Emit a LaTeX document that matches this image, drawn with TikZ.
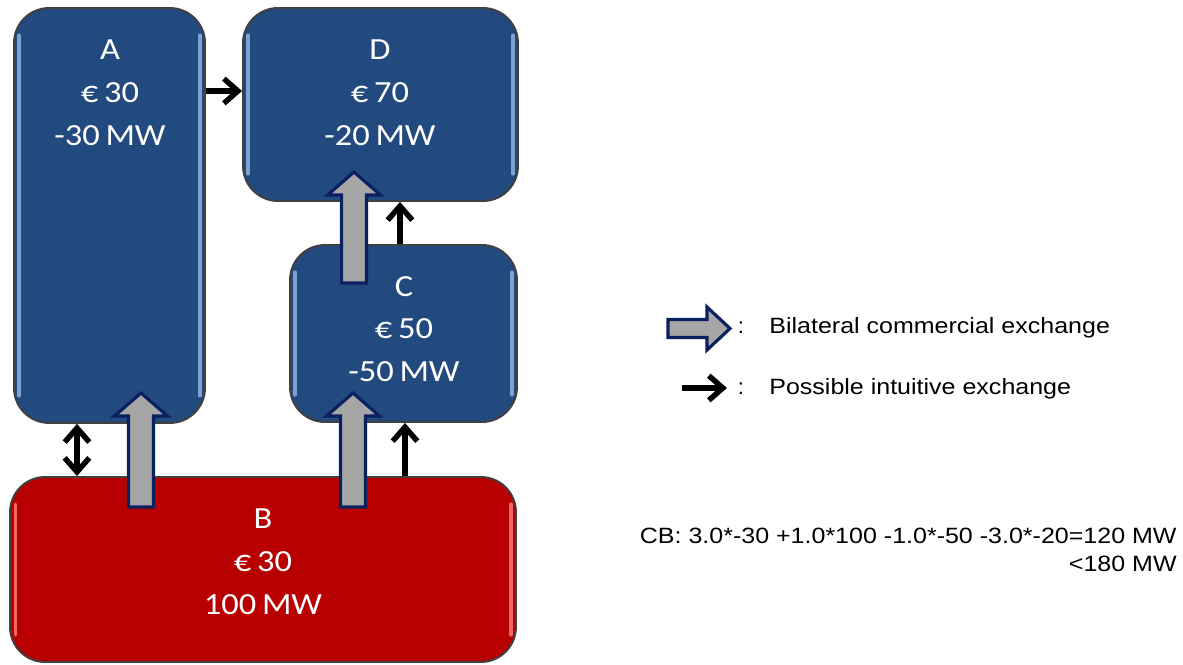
\documentclass[tikz,border=0pt]{standalone}
\usepackage{fontspec}
\usepackage{graphicx}
\setmainfont{Carlito}
\newfontfamily\arialf{Liberation Sans}
\usetikzlibrary{arrows.meta,calc}
\definecolor{boxblue}{HTML}{234A7E}
\definecolor{boxred}{HTML}{B80000}
\definecolor{navy}{HTML}{0B2060}
\definecolor{arrgray}{HTML}{A6A6A6}
\definecolor{hlblue}{HTML}{9DC0EA}
\definecolor{hlred}{HTML}{FF8A8A}
\newcommand\hstr[1]{\scalebox{1.12}[1]{#1}}
\newcommand\lstr[1]{\scalebox{1.13}[1]{#1}}
\newcommand\blkup[3]{% x, bottom y, tip y
  \draw[blk] (#1-12.5,#2) -- (#1-12.5,#3+23) -- (#1-26.5,#3+23) -- (#1,#3)
    -- (#1+26.5,#3+23) -- (#1+12.5,#3+23) -- (#1+12.5,#2) -- cycle;}
\tikzset{
  zone/.style={rectangle, rounded corners=0.7cm, draw=black!75, line width=1.1pt, inner sep=0pt},
  bluezone/.style={zone, fill=boxblue},
  redzone/.style={zone, fill=boxred},
  hlb/.style={draw=hlblue, line width=1.8pt, opacity=0.75, line cap=round},
  hlr/.style={draw=hlred, line width=1.8pt, opacity=0.75, line cap=round},
  zlabel/.style={text=white, align=center, font=\fontsize{17.5pt}{24.4pt}\selectfont, inner sep=0pt},
  blk/.style={fill=arrgray, draw=navy, line width=1.8pt, line join=miter},
  intu/.style={line width=3.1pt, -{Straight Barb[length=8pt,width=14pt]}},
  intuboth/.style={line width=3.1pt, {Straight Barb[length=8pt,width=14pt]}-{Straight Barb[length=8pt,width=14pt]}},
  legtext/.style={font=\arialf\fontsize{12.6pt}{16pt}\selectfont, inner sep=0pt},
}
\begin{document}
\begin{tikzpicture}[x=0.02cm, y=-0.02cm]
\useasboundingbox (0,0) rectangle (1183,665);
% zones
\node[bluezone, minimum width=3.82cm, minimum height=8.3cm] (A) at (109.5,215.5) {};
\node[bluezone, minimum width=5.5cm, minimum height=3.86cm] (D) at (380.5,104.5) {};
\node[bluezone, minimum width=4.54cm, minimum height=3.54cm] (C) at (403.5,333.5) {};
\node[redzone, minimum width=10.12cm, minimum height=3.7cm] (B) at (263,569.5) {};
% glossy highlights
\foreach \z in {A,C,D}{
  \draw[hlb] ($(\z.north west)+(6,28)$) -- ($(\z.south west)+(6,-28)$);
  \draw[hlb] ($(\z.north east)+(-6,28)$) -- ($(\z.south east)+(-6,-28)$);
}
\draw[hlr] ($(B.north west)+(6,28)$) -- ($(B.south west)+(6,-28)$);
\draw[hlr] ($(B.north east)+(-6,28)$) -- ($(B.south east)+(-6,-28)$);
% labels
\node[zlabel] (Alab) at (110,93) {\hstr{A}\\\hstr{€\,30}\\\hstr{-30\,MW}};
\node[zlabel] (Dlab) at (380,93) {\hstr{D}\\\hstr{€\,70}\\\hstr{-20\,MW}};
\node[zlabel] (Clab) at (404,329) {\hstr{C}\\\hstr{€\,50}\\\hstr{-50\,MW}};
\node[zlabel] (Blab) at (263,562) {\hstr{B}\\\hstr{€\,30}\\\hstr{100\,MW}};
% bilateral commercial exchanges (block arrows)
\blkup{141}{507}{393}
\blkup{353}{507}{393}
\blkup{354}{283}{172}
% possible intuitive exchanges
\draw[intu] (A.east |- 0,91) -- (D.west |- 0,91);
\draw[intuboth] (A.south -| 77,0) -- (B.north -| 77,0);
\draw[intu] (B.north -| 405,0) -- (C.south -| 405,0);
\draw[intu] (C.north -| 400,0) -- (D.south -| 400,0);
% legend
\draw[blk] (668,319.5) -- (707,319.5) -- (707,307) -- (730,328.5) -- (707,350) -- (707,337.5) -- (668,337.5) -- cycle;
\node[legtext] (col1) at (741,328) {:};
\node[legtext, anchor=west] (leg1) at (769,328) {\lstr{Bilateral commercial exchange}};
\coordinate (l2s) at (682,388);
\coordinate (l2e) at (727,388);
\draw[intu] (l2s) -- (l2e);
\node[legtext] (col2) at (741,389) {:};
\node[legtext, anchor=west] (leg2) at (769,389) {\lstr{Possible intuitive exchange}};
\node[legtext, anchor=north east, align=right] (cb) at (1177,528) {\lstr{CB: 3.0*-30 +1.0*100 -1.0*-50 -3.0*-20=120 MW}\\\lstr{<180 MW}};
\end{tikzpicture}
\end{document}
